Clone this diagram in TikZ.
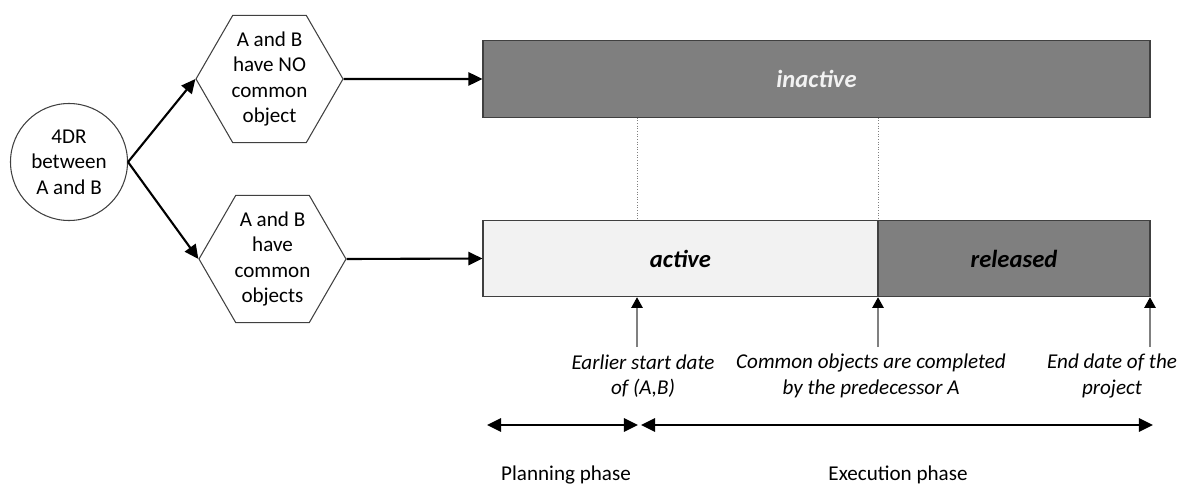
\documentclass[tikz,border=0pt]{standalone}
\usepackage{fontspec}
\setmainfont{Carlito}
\usepackage{tikz}
\usetikzlibrary{positioning, arrows.meta, shapes.geometric}
\definecolor{bardark}{HTML}{7F7F7F}
\definecolor{barlight}{HTML}{F2F2F2}
\definecolor{edgegray}{HTML}{404040}

\begin{document}
\begin{tikzpicture}[
    relnode/.style={draw=edgegray, line width=0.6pt, circle, minimum size=2.34cm, inner sep=0pt, align=center, font=\fontsize{12}{14.5}\selectfont},
    casehex/.style={draw=edgegray, line width=0.6pt, regular polygon, regular polygon sides=6, minimum size=2.94cm, inner sep=-4pt, align=center, font=\fontsize{12}{14.5}\selectfont},
    phasebar/.style={draw=edgegray, line width=0.6pt, fill=#1, minimum height=1.53cm, inner sep=0pt, font=\fontsize{14}{17}\selectfont\bfseries\itshape},
    phasebar/.default=bardark,
    flow/.style={-{Triangle[length=8pt, width=7.5pt]}, line width=1.2pt},
    datearrow/.style={-{Triangle[length=6pt, width=6.5pt, color=black]}, gray, line width=0.6pt},
    span/.style={{Triangle[length=8pt, width=7.5pt]}-{Triangle[length=8pt, width=7.5pt]}, line width=1.4pt},
    guide/.style={densely dotted, gray, line width=0.5pt},
    note/.style={font=\fontsize{12}{14.5}\selectfont\itshape, align=center},
    phaselabel/.style={font=\fontsize{12}{14.5}\selectfont},
]
\useasboundingbox (0,0) rectangle (23.74,-9.76);

% Relation and its two cases
\node[relnode] (rel) at (1.38,-3.24) {4DR\\between\\A and B};
\node[casehex] (nocommon) at (5.39,-1.58) {A and B\\have NO\\common\\object};
\node[casehex] (common) at (5.45,-5.18) {A and B\\have\\common\\objects};

% State bars
\node[phasebar, minimum width=13.34cm, text=barlight] (inactive) at (16.33,-1.58) {inactive};
\node[phasebar=barlight, minimum width=7.90cm] (active) at (13.61,-5.17) {active};
\node[phasebar, minimum width=5.44cm] (released) at (20.28,-5.17) {released};

% Flow
\draw[flow] (rel.east) -- (nocommon.west);
\draw[flow] (rel.east) -- (common.west);
\draw[flow] (nocommon.east) -- (inactive.west);
\draw[flow] (common.east) -- (active.west);

% Dates
\coordinate (tstart) at (12.74,-6.94);
\coordinate (tdone) at (17.56,-6.94);
\coordinate (tend) at (23.00,-6.94);
\foreach \t in {tstart,tdone,tend} {
    \draw[datearrow] (\t) -- (\t |- active.south);
}
\foreach \t in {tstart,tdone} {
    \draw[guide] (\t |- inactive.south) -- (\t |- active.north);
}

\node[note] (lstart) at (12.86,-7.52) {Earlier start date\\of (A,B)};
\node[note] (ldone) at (17.42,-7.52) {Common objects are completed\\by the predecessor A};
\node[note] (lend) at (22.24,-7.52) {End date of the\\project};

% Phases
\coordinate (plan0) at (9.74,-8.5);
\coordinate (plan1) at (12.76,-8.5);
\coordinate (exec0) at (12.82,-8.5);
\coordinate (exec1) at (23.06,-8.5);
\draw[span] (plan0) -- (plan1);
\draw[span] (exec0) -- (exec1);

\node[phaselabel] (plan) at (11.32,-9.5) {Planning phase};
\node[phaselabel] (exec) at (17.96,-9.5) {Execution phase};

\end{tikzpicture}
\end{document}
